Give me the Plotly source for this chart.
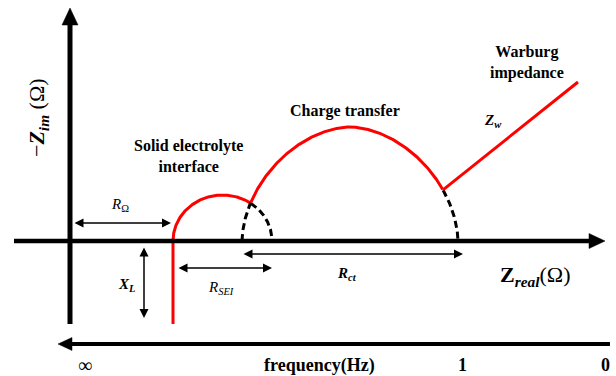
import numpy as np
import plotly.graph_objects as go

# Equivalent-circuit parameters of the schematic Nyquist plot (arbitrary Ω units)
R_OHM = 10.3          # ohmic resistance: start of the SEI arc
R_SEI = 9.9           # diameter of the SEI arc
SEI_PEAK = 4.6        # height of the SEI arc
CT_START = 17.2       # where the charge-transfer arc leaves the real axis
R_CT = 21.6           # diameter of the charge-transfer arc
CT_PEAK = 11.4        # height of the charge-transfer arc
CT_SHAPE = 1.8        # superellipse exponent of the charge-transfer arc
X_L = 8.3             # inductive tail below the real axis
WARBURG_START = 37.3  # real part where diffusion takes over
WARBURG_END = 50.8
WARBURG_TOP = 15.9

# Axis extents
Y_AXIS_BOTTOM, Y_AXIS_TOP = -8.3, 23.3
X_AXIS_LEFT, X_AXIS_RIGHT = -5.6, 53.5
FREQ_Y, FREQ_LEFT, FREQ_RIGHT = -10.3, -1.2, 54.0

# Frequency scale labels
freq_ticks = ["∞", "1", "0"]
freq_tick_x = [1.5, 39.2, 53.5]

RED = "#ff0000"
BLACK = "#000000"
SERIF = "Liberation Serif"

fig = go.Figure()


def line(x, y, color, width, dash="solid"):
    fig.add_trace(go.Scatter(x=x, y=y, mode="lines", hoverinfo="skip",
                             line=dict(color=color, width=width, dash=dash)))


def head(tip_x, tip_y, dx, dy, length, half):
    # filled triangular arrowhead pointing along (dx, dy)
    bx, by = tip_x - dx * length, tip_y - dy * length
    px, py = -dy * half, dx * half
    fig.add_trace(go.Scatter(x=[tip_x, bx + px, bx - px, tip_x],
                             y=[tip_y, by + py, by - py, tip_y],
                             mode="lines", fill="toself", fillcolor=BLACK,
                             line=dict(color=BLACK, width=0.5), hoverinfo="skip"))


# SEI arc (ellipse)
sei_c = R_OHM + R_SEI / 2
t = np.linspace(np.pi, 0, 400)
sei_x = sei_c + R_SEI / 2 * np.cos(t)
sei_y = SEI_PEAK * np.sin(t)

# Charge-transfer arc (superellipse)
ct_c = CT_START + R_CT / 2
c, s = np.cos(t), np.sin(t)
ct_x = ct_c + R_CT / 2 * np.sign(c) * np.abs(c) ** (2 / CT_SHAPE)
ct_y = CT_PEAK * np.abs(s) ** (2 / CT_SHAPE)

# Crossing of the two arcs
sei_at_ct = np.interp(ct_x, sei_x, sei_y, left=0, right=0)
inside = (ct_x <= R_OHM + R_SEI)
diff = np.where(inside, ct_y - sei_at_ct, -1)
k = int(np.argmax(diff >= 0))
x_cross = ct_x[k]

sei_red = sei_x <= x_cross
line(sei_x[sei_red], sei_y[sei_red], RED, 3)
line(sei_x[~sei_red], sei_y[~sei_red], BLACK, 3, "7px,4px")

ct_red = (ct_x >= x_cross) & (ct_x <= WARBURG_START)
line(ct_x[ct_x <= x_cross], ct_y[ct_x <= x_cross], BLACK, 3, "7px,4px")
line(ct_x[ct_red], ct_y[ct_red], RED, 3)
line(ct_x[ct_x >= WARBURG_START], ct_y[ct_x >= WARBURG_START], BLACK, 3, "7px,4px")

# Inductive tail and Warburg line
line([R_OHM, R_OHM], [0, -X_L], RED, 3)
w_y0 = float(np.interp(WARBURG_START, ct_x, ct_y))
line([WARBURG_START, WARBURG_END], [w_y0, WARBURG_TOP], RED, 3)

# Axes with arrowheads
line([0, 0], [Y_AXIS_BOTTOM, Y_AXIS_TOP - 1.5], BLACK, 5)
head(0, Y_AXIS_TOP, 0, 1, 1.7, 0.8)
line([X_AXIS_LEFT, X_AXIS_RIGHT - 1.4], [0, 0], BLACK, 4.5)
head(X_AXIS_RIGHT, 0, 1, 0, 1.6, 0.75)

# Frequency direction arrow
line([FREQ_RIGHT, FREQ_LEFT + 1.2], [FREQ_Y, FREQ_Y], BLACK, 4)
head(FREQ_LEFT, FREQ_Y, -1, 0, 1.4, 0.65)

# Dimension arrows
dims = [
    (0.3, 1.8, R_OHM - 0.2, 1.8),
    (7.4, -0.5, 7.4, -X_L + 0.6),
    (R_OHM + 0.4, -2.7, R_OHM + R_SEI, -2.7),
    (CT_START, -1.3, CT_START + R_CT + 0.5, -1.3),
]
for x0, y0, x1, y1 in dims:
    fig.add_annotation(x=x1, y=y1, ax=x0, ay=y0, xref="x", yref="y",
                       axref="x", ayref="y", text="", showarrow=True,
                       arrowhead=2, startarrowhead=2, arrowside="end+start",
                       arrowsize=1.2, startarrowsize=1.2, arrowwidth=1.5,
                       arrowcolor=BLACK)


# Text
def label(x, y, text, size, angle=0):
    fig.add_annotation(x=x, y=y, xref="x", yref="y", text=text, showarrow=False,
                       textangle=angle, font=dict(family=SERIF, size=size, color=BLACK),
                       align="center")


label(-3.2, 12.3, "−<b><i>Z<sub>im</sub></i></b> (Ω)", 22, -90)
label(46.5, -3.5, "<b>Z<sub><i>real</i></sub></b>(Ω)", 22)
label(11.8, 8.5, "<b>Solid electrolyte<br>interface</b>", 16)
label(27.5, 13.0, "<b>Charge transfer</b>", 16)
label(45.7, 17.9, "<b>Warburg<br>impedance</b>", 16)
label(42.3, 12.0, "<b><i>Z<sub>w</sub></i></b>", 15)
label(5.0, 3.6, "<i>R</i><sub>Ω</sub>", 15)
label(5.6, -4.4, "<b><i>X<sub>L</sub></i></b>", 15)
label(15.1, -4.7, "<i>R<sub>SEI</sub></i>", 15)
label(27.7, -3.3, "<b><i>R<sub>ct</sub></i></b>", 15)
label(24.9, -12.4, "<b>frequency(Hz)</b>", 18)
for tx, tt in zip(freq_tick_x, freq_ticks):
    label(tx, -12.4, f"<b>{tt}</b>" if tt != "∞" else tt, 18 if tt != "∞" else 20)

fig.update_layout(
    width=616, height=376, margin=dict(l=0, r=0, t=0, b=0),
    paper_bgcolor="white", plot_bgcolor="white", showlegend=False,
    font=dict(family=SERIF),
    xaxis=dict(range=[-7.0, 54.6], visible=False, fixedrange=True),
    yaxis=dict(range=[-13.5, 24.1], visible=False, fixedrange=True),
)

fig.write_html("out.html")
